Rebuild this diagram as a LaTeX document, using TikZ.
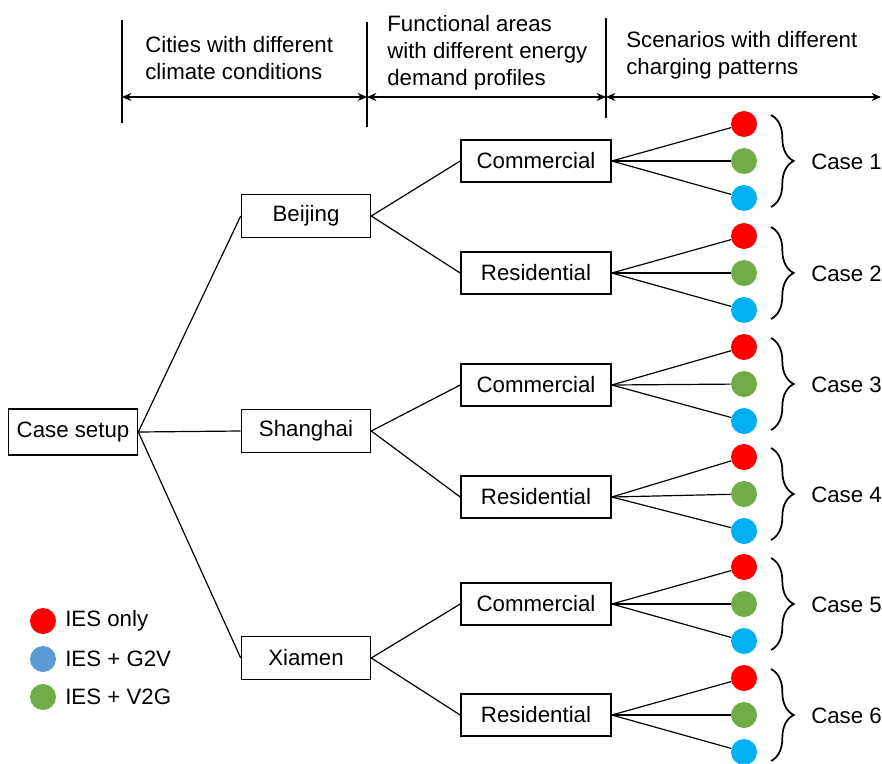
\documentclass[tikz,border=0pt]{standalone}
\usepackage{fontspec}
\setmainfont{Liberation Sans}
\usetikzlibrary{arrows.meta,decorations.pathreplacing}
\definecolor{iesred}{HTML}{FF0000}
\definecolor{iesgreen}{HTML}{70AD47}
\definecolor{iescyan}{HTML}{00B0F0}
\definecolor{iesblue}{HTML}{5B9BD5}
\newcommand{\labelSize}[0]{\fontsize{16.7}{20.2}\selectfont}

\begin{document}
\begin{tikzpicture}[x=0.75pt, y=-0.75pt, >={Stealth[length=7pt,width=6pt]}]
  \tikzset{every node/.style={font=\labelSize},
    box/.style={draw,line width=1.2pt,inner sep=0pt},
    citybox/.style={box,minimum width=96.75pt,minimum height=32pt},
    areabox/.style={box,minimum width=112.5pt,minimum height=31.5pt},
    dot/.style={circle,minimum size=19.5pt,inner sep=0pt},
    heading/.style={anchor=west,align=left,inner sep=0pt},
    brace/.style={decorate,decoration={brace,amplitude=17pt},line width=1.3pt},
    link/.style={line width=0.9pt}}
  \useasboundingbox (0,0) rectangle (882,764);

  \draw[line width=0.9pt] (122,20) -- (122,123);
  \draw[line width=0.9pt] (367,22) -- (367,127);
  \draw[line width=0.9pt] (606,18) -- (606,118);
  \coordinate (h0) at (122,97);
  \coordinate (h1) at (367,97);
  \coordinate (h2) at (606,97);
  \coordinate (h3) at (881,97);
  \draw[<->,line width=1pt] (h0) -- (h1);
  \draw[<->,line width=1pt] (h1) -- (h2);
  \draw[<->,line width=1pt] (h2) -- (h3);
  \node[heading] (hcity) at (145,58) {Cities with different\\climate conditions};
  \node[heading] (harea) at (387,53) {Functional areas\\with different energy\\demand profiles};
  \node[heading] (hscen) at (626,55) {Scenarios with different\\charging patterns};

  \node[box,minimum width=96.75pt,minimum height=34.5pt] (setup) at (73,432) {Case setup};
  \node[citybox] (bj) at (306,216) {Beijing};
  \node[citybox] (sh) at (306,431) {Shanghai};
  \node[citybox] (xm) at (306,658) {Xiamen};
  \foreach \c in {bj,sh,xm}
    \draw[link] (setup.east) -- (\c.west);

  \foreach \i/\c/\y/\yd/\lab in {1/bj/161/161/Commercial, 2/bj/273/273/Residential,
      3/sh/385/384/Commercial, 4/sh/497/494/Residential,
      5/xm/604/604/Commercial, 6/xm/715/715/Residential}
  {
    \node[areabox] (area\i) at (536,\y) {\lab};
    \draw[link] (\c.east) -- (area\i.west);
    \node[dot,fill=iesred] (red\i) at (744,\yd-37) {};
    \node[dot,fill=iesgreen] (green\i) at (744,\yd) {};
    \node[dot,fill=iescyan] (cyan\i) at (744,\yd+37) {};
    \draw[link] (area\i.east) -- (red\i);
    \draw[link] (area\i.east) -- (green\i);
    \draw[link] (area\i.east) -- (cyan\i);
    \draw[brace] (771,\yd-46) -- (771,\yd+46);
    \node[anchor=west,inner sep=0pt] (case\i) at (811,\yd+1) {Case \i};
  }

  \node[dot,fill=iesred] (kred) at (43,621) {};
  \node[dot,fill=iesblue] (kblue) at (43,659) {};
  \node[dot,fill=iesgreen] (kgreen) at (43,697) {};
  \node[anchor=west,inner sep=0pt] (lred) at (65,621) {IES only};
  \node[anchor=west,inner sep=0pt] (lblue) at (65,659) {IES + G2V};
  \node[anchor=west,inner sep=0pt] (lgreen) at (65,697) {IES + V2G};
\end{tikzpicture}
\end{document}
